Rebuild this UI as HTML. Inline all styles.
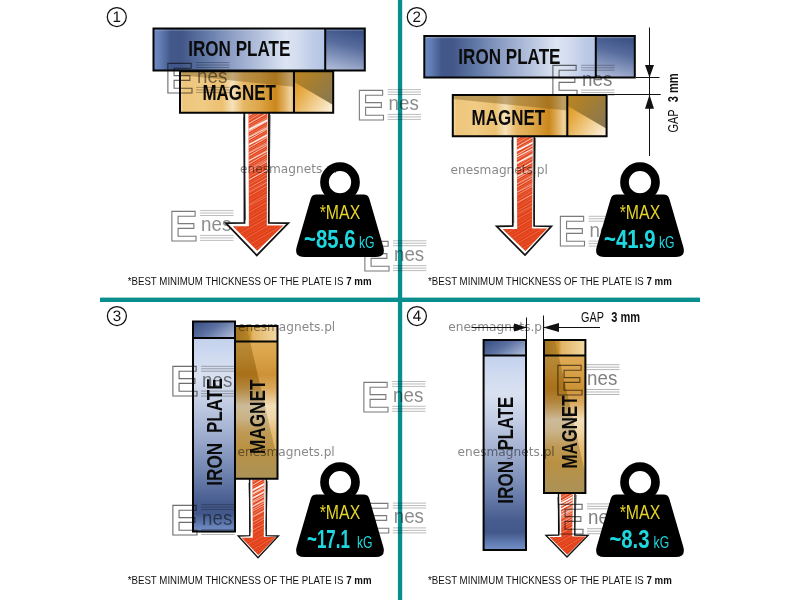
<!DOCTYPE html>
<html lang="en">
<head>
<meta charset="utf-8">
<title>Magnet holding force – iron plate and air gap</title>
<style>
html,body{margin:0;padding:0;background:#fff;}
body{width:800px;height:600px;overflow:hidden;position:relative;font-family:'Liberation Sans',Arial,Helvetica,sans-serif;}
svg{position:absolute;left:0;top:0;display:block;}
text{font-family:'Liberation Sans',Arial,Helvetica,sans-serif;white-space:pre;}
.lbl{font-weight:bold;font-size:21.8px;fill:#0b0b0b;}
.note{font-size:11px;fill:#111;}
.noteb{font-size:11px;fill:#111;font-weight:bold;}
.wm{font-family:'DejaVu Sans',Verdana,'Liberation Sans',sans-serif;font-size:12.2px;fill:#666;fill-opacity:.78;mix-blend-mode:multiply;}
.mul{mix-blend-mode:multiply;}
.num{font-size:15.2px;fill:#111;text-anchor:middle;text-rendering:geometricPrecision;}
.max{font-size:19.3px;fill:#e3d327;}
.val{font-size:25.8px;font-weight:bold;fill:#1fd7de;}
.kg{font-size:16.5px;fill:#1fd7de;}
.gap{font-size:14.5px;fill:#111;}
.gapb{font-size:14.5px;fill:#111;font-weight:bold;}
.logoE{font-weight:bold;font-size:43px;fill:none;stroke:#6e6e6e;stroke-width:1.1;text-rendering:geometricPrecision;}
.logoN{font-size:21px;fill:#808080;}
</style>
</head>
<body>
<svg width="800" height="600" viewBox="0 0 800 600">
<defs>
<linearGradient id="ironH" x1="0" y1="0" x2="1" y2="0">
<stop offset="0" stop-color="#6f8dc3"/><stop offset=".04" stop-color="#617db3"/><stop offset=".10" stop-color="#43588a"/>
<stop offset=".16" stop-color="#425688"/><stop offset=".30" stop-color="#6078a6"/><stop offset=".46" stop-color="#8fa0c6"/>
<stop offset=".63" stop-color="#b8c5df"/><stop offset=".77" stop-color="#dde5f3"/><stop offset=".84" stop-color="#d3ddef"/>
<stop offset=".92" stop-color="#c0cde8"/><stop offset="1" stop-color="#b3c4e5"/>
</linearGradient>
<linearGradient id="ironV" x1="0" y1="1" x2="0" y2="0">
<stop offset="0" stop-color="#7592c8"/><stop offset=".035" stop-color="#617db3"/><stop offset=".09" stop-color="#43588a"/>
<stop offset=".15" stop-color="#475c8e"/><stop offset=".30" stop-color="#6d82ae"/><stop offset=".50" stop-color="#a0aecf"/>
<stop offset=".66" stop-color="#c1cce3"/><stop offset=".80" stop-color="#d9e1f0"/><stop offset=".90" stop-color="#d0dbf0"/>
<stop offset="1" stop-color="#c3d1ed"/>
</linearGradient>
<linearGradient id="ironSide" x1=".62" y1="0" x2=".38" y2="1">
<stop offset="0" stop-color="#3a5084"/><stop offset=".4" stop-color="#586d9e"/><stop offset="1" stop-color="#aab7d5"/>
</linearGradient>
<linearGradient id="ironCap" x1="0" y1=".2" x2="1" y2=".8">
<stop offset="0" stop-color="#3a5084"/><stop offset=".45" stop-color="#5d72a2"/><stop offset="1" stop-color="#a9b7d6"/>
</linearGradient>
<linearGradient id="magH" x1="0" y1="0" x2="1" y2="0">
<stop offset="0" stop-color="#f6dfae"/><stop offset=".03" stop-color="#edc67c"/><stop offset=".20" stop-color="#f0cb84"/>
<stop offset=".37" stop-color="#ebc070"/><stop offset=".46" stop-color="#f6e2ba"/><stop offset=".56" stop-color="#e6b763"/>
<stop offset=".70" stop-color="#dda548"/><stop offset=".84" stop-color="#cb871b"/><stop offset=".92" stop-color="#e2b366"/>
<stop offset=".97" stop-color="#f0d39c"/><stop offset="1" stop-color="#e2b870"/>
</linearGradient>
<linearGradient id="magV" x1="0" y1="0" x2="0" y2="1">
<stop offset="0" stop-color="#d69c3a"/><stop offset=".10" stop-color="#d09029"/><stop offset=".24" stop-color="#c07a10"/>
<stop offset=".34" stop-color="#cf9640"/><stop offset=".47" stop-color="#f0dcb8"/><stop offset=".56" stop-color="#ecd0a0"/><stop offset=".66" stop-color="#ddb060"/>
<stop offset=".78" stop-color="#d7a545"/><stop offset=".90" stop-color="#cca658"/><stop offset="1" stop-color="#c4a660"/>
</linearGradient>
<linearGradient id="magSide" x1="0" y1=".25" x2="1" y2="1">
<stop offset="0" stop-color="#df961c"/><stop offset=".3" stop-color="#e8b050"/><stop offset=".65" stop-color="#f3d49c"/><stop offset="1" stop-color="#fef4e4"/>
</linearGradient>
<linearGradient id="magSideDark" x1="0" y1="0" x2="1" y2=".75">
<stop offset="0" stop-color="#bd861f"/><stop offset=".45" stop-color="#a67e30"/><stop offset="1" stop-color="#8a7850"/>
</linearGradient>
<linearGradient id="magCap" x1="0" y1="0" x2="1" y2="0">
<stop offset="0" stop-color="#b07c1c"/><stop offset=".35" stop-color="#c8922e"/><stop offset=".42" stop-color="#e2b565"/><stop offset="1" stop-color="#f3d9a4"/>
</linearGradient>
<linearGradient id="fadeV" x1="0" y1="0" x2="0" y2="1">
<stop offset="0" stop-color="#fff"/><stop offset=".35" stop-color="#fff" stop-opacity=".8"/><stop offset=".6" stop-color="#fff" stop-opacity=".35"/><stop offset="1" stop-color="#fff" stop-opacity=".25"/>
</linearGradient>
<pattern id="hatch" width="20" height="7" patternUnits="userSpaceOnUse" patternTransform="rotate(-30)">
<rect y="0" width="20" height="1" fill="#fde0d4" fill-opacity=".9"/>
<rect y="2.3" width="20" height=".55" fill="#f9c4b0" fill-opacity=".75"/>
<rect y="3.9" width="20" height=".8" fill="#fbd3c4" fill-opacity=".8"/>
<rect y="5.7" width="20" height=".4" fill="#f7b9a4" fill-opacity=".6"/>
</pattern>
</defs>
<rect width="800" height="600" fill="#fff"/>
<rect x="100" y="297.6" width="600" height="4.4" fill="#088e8e"/>
<rect x="397.9" y="0" width="4.3" height="600" fill="#088e8e"/>
<!-- panel 1 -->
<circle cx="116.8" cy="17" r="9.5" fill="#fff" stroke="#111" stroke-width="1.25"/><text class="num" x="116.8" y="21.9">1</text>
<g class="mul" transform="translate(171.5 210.3)" opacity="0.9"><text class="logoE" transform="translate(-2.5 30.3)">E</text><path d="M28.6 .3H62M28.6 2.75H62M28.6 5.2H62M28.6 25.1H62M28.6 27.6H62M28.6 30.1H62" stroke="#9c9c9c" stroke-width=".75" fill="none"/><text class="logoN" transform="translate(29.6 20.7) scale(0.8919 1)">nes</text></g>
<g>
<path d="M244.3 113L244.5 222.8L225.9 223.2L256.8 255.4L288.3 223.2L268.8 222.8L269 113" fill="#fff" stroke="#111" stroke-width="1.8" stroke-linejoin="miter"/>
<path d="M243.5 117L245.5 219.8M270.3 115L268.4 216.8" fill="none" stroke="#222" stroke-width=".7" stroke-opacity=".8"/>
<path d="M248.5 113.5L248.9 226.2L232.8 226.2L257.2 250.7L283.4 225.6L266.8 225.6L267.4 113.5Z" fill="#e23b12"/>
<clipPath id="ac1"><path d="M248.5 113.5L248.9 226.2L232.8 226.2L257.2 250.7L283.4 225.6L266.8 225.6L267.4 113.5Z"/></clipPath>
<mask id="am1" maskUnits="userSpaceOnUse" x="224.3" y="113" width="65.6" height="143.3"><rect x="224.3" y="113" width="65.6" height="143.3" fill="url(#fadeV)"/></mask>
<path d="M248.5 113.5L248.9 226.2L232.8 226.2L257.2 250.7L283.4 225.6L266.8 225.6L267.4 113.5Z" fill="url(#hatch)" mask="url(#am1)"/>
<g clip-path="url(#ac1)" stroke="#fff" fill="none"><path d="M245.5 131.47L270.4 118.53" stroke-width="1.7" stroke-opacity="0.9"/><path d="M245.5 138.97L270.4 126.03" stroke-width="1.1" stroke-opacity="0.8"/><path d="M245.5 146.47L270.4 133.53" stroke-width="1.5" stroke-opacity="0.85"/><path d="M245.5 154.97L270.4 142.03" stroke-width="0.9" stroke-opacity="0.7"/><path d="M245.5 162.47L270.4 149.53" stroke-width="1.3" stroke-opacity="0.7"/><path d="M245.5 171.47L270.4 158.53" stroke-width="0.8" stroke-opacity="0.55"/><path d="M245.5 181.47L270.4 168.53" stroke-width="1" stroke-opacity="0.5"/><path d="M245.5 193.47L270.4 180.53" stroke-width="0.7" stroke-opacity="0.4"/><path d="M245.5 207.47L270.4 194.53" stroke-width="0.8" stroke-opacity="0.3"/></g>
</g>
<rect x="180" y="71.2" width="114" height="41.5" fill="url(#magH)"/>
<rect x="294" y="71.2" width="39.2" height="41.5" fill="url(#magSide)"/>
<path d="M180 71.2H294V86.86L180 75.12Z" fill="#7a5a20" fill-opacity=".42"/>
<path d="M294 71.2H333.2V105L294 81.95Z" fill="url(#magSideDark)"/>
<path d="M180 71.2H333.2V112.7H180ZM294 71.2V112.7" fill="none" stroke="#050505" stroke-width="2"/>
<rect x="153.5" y="28.5" width="171.7" height="42" fill="url(#ironH)"/>
<rect x="325.2" y="28.5" width="39.6" height="42" fill="url(#ironSide)"/>
<rect x="154.5" y="29.5" width="209.3" height="1.2" fill="#fff" fill-opacity=".25"/>
<path d="M153.5 28.5H364.8V70.5H153.5ZM325.2 28.5V70.5" fill="none" stroke="#050505" stroke-width="2"/>
<text class="lbl" transform="translate(188.2 56.4) scale(0.7838 1)">IRON PLATE</text>
<text class="lbl" transform="translate(202.5 99.9) scale(0.7781 1)">MAGNET</text>
<g class="mul" transform="translate(167.5 62.3)" opacity="1"><text class="logoE" transform="translate(-2.5 30.3)">E</text><path d="M28.6 .3H62M28.6 2.75H62M28.6 5.2H62M28.6 25.1H62M28.6 27.6H62M28.6 30.1H62" stroke="#9c9c9c" stroke-width=".75" fill="none"/><text class="logoN" transform="translate(29.6 20.7) scale(0.8919 1)">nes</text></g>
<g class="mul" transform="translate(359 89.3)" opacity="0.9"><text class="logoE" transform="translate(-2.5 30.3)">E</text><path d="M28.6 .3H62M28.6 2.75H62M28.6 5.2H62M28.6 25.1H62M28.6 27.6H62M28.6 30.1H62" stroke="#9c9c9c" stroke-width=".75" fill="none"/><text class="logoN" transform="translate(29.6 20.7) scale(0.8919 1)">nes</text></g>
<g class="mul" transform="translate(364.4 240.5)" opacity="0.9"><text class="logoE" transform="translate(-2.5 30.3)">E</text><path d="M28.6 .3H62M28.6 2.75H62M28.6 5.2H62M28.6 25.1H62M28.6 27.6H62M28.6 30.1H62" stroke="#9c9c9c" stroke-width=".75" fill="none"/><text class="logoN" transform="translate(29.6 20.7) scale(0.8919 1)">nes</text></g>
<text class="wm" transform="translate(240 173.4) scale(0.9970 1)">enesmagnets.pl</text>
<g transform="translate(340 182)"><path fill="#000" d="M-23.4 12.6H23.4Q28.2 12.6 29.4 17L43.2 64.6Q46.2 75 35.6 75H-35.6Q-46.2 75 -43.2 64.6L-29.4 17Q-28.2 12.6 -23.4 12.6Z"/><circle cy=".2" r="15.5" fill="none" stroke="#000" stroke-width="8.7"/><text class="max" transform="translate(-20.3 37.2) scale(0.8230 1)">*MAX</text></g>
<text class="val" transform="translate(304 248.2) scale(0.7889 1)">~85.6</text>
<text class="kg" transform="translate(359 248.2) scale(0.7399 1)">kG</text>
<text class="note" transform="translate(127.7 284.5) scale(0.8826 1)">*BEST MINIMUM THICKNESS OF THE PLATE IS <tspan class="noteb">7 mm</tspan></text>
<!-- panel 2 -->
<circle cx="416.8" cy="17" r="9.5" fill="#fff" stroke="#111" stroke-width="1.25"/><text class="num" x="416.8" y="21.9">2</text>
<g class="mul" transform="translate(560 216)" opacity="0.9"><text class="logoE" transform="translate(-2.5 30.3)">E</text><path d="M28.6 .3H62M28.6 2.75H62M28.6 5.2H62M28.6 25.1H62M28.6 27.6H62M28.6 30.1H62" stroke="#9c9c9c" stroke-width=".75" fill="none"/><text class="logoN" transform="translate(29.6 20.7) scale(0.8919 1)">nes</text></g>
<g>
<path d="M512.6 136L512.8 226L496.6 226.4L525 255.1L551.4 226.4L534.1 226L534.3 136" fill="#fff" stroke="#111" stroke-width="1.7" stroke-linejoin="miter"/>
<path d="M511.8 140L513.8 223M535.6 138L533.7 220" fill="none" stroke="#222" stroke-width=".7" stroke-opacity=".8"/>
<path d="M516.8 136.5L517.2 229.06L502.65 229.06L525.4 250.96L547.15 228.46L532.1 228.46L532.7 136.5Z" fill="#e23b12"/>
<clipPath id="ac2"><path d="M516.8 136.5L517.2 229.06L502.65 229.06L525.4 250.96L547.15 228.46L532.1 228.46L532.7 136.5Z"/></clipPath>
<mask id="am2" maskUnits="userSpaceOnUse" x="495" y="136" width="58" height="120"><rect x="495" y="136" width="58" height="120" fill="url(#fadeV)"/></mask>
<path d="M516.8 136.5L517.2 229.06L502.65 229.06L525.4 250.96L547.15 228.46L532.1 228.46L532.7 136.5Z" fill="url(#hatch)" mask="url(#am2)"/>
<g clip-path="url(#ac2)" stroke="#fff" fill="none"><path d="M513.8 152.36L535.7 140.97" stroke-width="1.7" stroke-opacity="0.9"/><path d="M513.8 158.61L535.7 147.22" stroke-width="1.1" stroke-opacity="0.8"/><path d="M513.8 164.86L535.7 153.47" stroke-width="1.5" stroke-opacity="0.85"/><path d="M513.8 171.94L535.7 160.56" stroke-width="0.9" stroke-opacity="0.7"/><path d="M513.8 178.19L535.7 166.81" stroke-width="1.3" stroke-opacity="0.7"/><path d="M513.8 185.69L535.7 174.31" stroke-width="0.8" stroke-opacity="0.55"/><path d="M513.8 194.03L535.7 182.64" stroke-width="1" stroke-opacity="0.5"/><path d="M513.8 204.03L535.7 192.64" stroke-width="0.7" stroke-opacity="0.4"/><path d="M513.8 215.69L535.7 204.31" stroke-width="0.8" stroke-opacity="0.3"/></g>
</g>
<rect x="424.3" y="36" width="171.5" height="41.5" fill="url(#ironH)"/>
<rect x="595.8" y="36" width="39" height="41.5" fill="url(#ironSide)"/>
<rect x="425.3" y="37" width="208.5" height="1.2" fill="#fff" fill-opacity=".25"/>
<path d="M424.3 36H634.8V77.5H424.3ZM595.8 36V77.5" fill="none" stroke="#050505" stroke-width="2"/>
<g class="mul" transform="translate(552.5 65)" opacity="1"><text class="logoE" transform="translate(-2.5 30.3)">E</text><path d="M28.6 .3H62M28.6 2.75H62M28.6 5.2H62M28.6 25.1H62M28.6 27.6H62M28.6 30.1H62" stroke="#9c9c9c" stroke-width=".75" fill="none"/><text class="logoN" transform="translate(29.6 20.7) scale(0.8919 1)">nes</text></g>
<rect x="452.8" y="95" width="114.5" height="41.3" fill="url(#magH)"/>
<rect x="567.3" y="95" width="39.3" height="41.3" fill="url(#magSide)"/>
<path d="M452.8 95H567.3V110.59L452.8 98.9Z" fill="#7a5a20" fill-opacity=".42"/>
<path d="M567.3 95H606.6V128.64L567.3 105.69Z" fill="url(#magSideDark)"/>
<path d="M452.8 95H606.6V136.3H452.8ZM567.3 95V136.3" fill="none" stroke="#050505" stroke-width="2"/>
<text class="lbl" transform="translate(458.3 64.1) scale(0.7838 1)">IRON PLATE</text>
<text class="lbl" transform="translate(471.6 124.6) scale(0.7781 1)">MAGNET</text>
<text class="wm" transform="translate(450.6 173.6) scale(0.9970 1)">enesmagnets.pl</text>
<path d="M649.5 27.5V156M636 77.5H659.5M607.5 94.5H660.7" stroke="#111" stroke-width="1" fill="none"/>
<path d="M649.5 77.4L645 65H654ZM649.5 94.8L645 108.7H654Z" fill="#111"/>
<text class="gap" transform="translate(678 132.5) rotate(-90) scale(0.7478 1)">GAP</text>
<text class="gapb" transform="translate(678 102.3) rotate(-90) scale(0.7630 1)">3 mm</text>
<g transform="translate(640 182)"><path fill="#000" d="M-23.4 12.6H23.4Q28.2 12.6 29.4 17L43.2 64.6Q46.2 75 35.6 75H-35.6Q-46.2 75 -43.2 64.6L-29.4 17Q-28.2 12.6 -23.4 12.6Z"/><circle cy=".2" r="15.5" fill="none" stroke="#000" stroke-width="8.7"/><text class="max" transform="translate(-20.3 37.2) scale(0.8230 1)">*MAX</text></g>
<text class="val" transform="translate(604 248.2) scale(0.7889 1)">~41.9</text>
<text class="kg" transform="translate(659 248.2) scale(0.7399 1)">kG</text>
<text class="note" transform="translate(428 284.5) scale(0.8826 1)">*BEST MINIMUM THICKNESS OF THE PLATE IS <tspan class="noteb">7 mm</tspan></text>
<!-- panel 3 -->
<circle cx="116.9" cy="316" r="9.5" fill="#fff" stroke="#111" stroke-width="1.25"/><text class="num" x="116.9" y="320.9">3</text>
<g>
<path d="M249.6 479L249.8 535.6L238.2 536L258 557.7L278.4 536L266.2 535.6L266.4 479" fill="#fff" stroke="#111" stroke-width="1.4" stroke-linejoin="miter"/>
<path d="M248.8 483L250.8 532.6M267.7 481L265.8 529.6" fill="none" stroke="#222" stroke-width=".7" stroke-opacity=".8"/>
<path d="M252.4 479.5L252.8 537.64L241.7 537.64L258.4 555.24L276.1 537.04L263.8 537.04L264.4 479.5Z" fill="#e23b12"/>
<clipPath id="ac3"><path d="M252.4 479.5L252.8 537.64L241.7 537.64L258.4 555.24L276.1 537.04L263.8 537.04L264.4 479.5Z"/></clipPath>
<mask id="am3" maskUnits="userSpaceOnUse" x="236.6" y="479" width="43.4" height="79.6"><rect x="236.6" y="479" width="43.4" height="79.6" fill="url(#fadeV)"/></mask>
<path d="M252.4 479.5L252.8 537.64L241.7 537.64L258.4 555.24L276.1 537.04L263.8 537.04L264.4 479.5Z" fill="url(#hatch)" mask="url(#am3)"/>
<g clip-path="url(#ac3)" stroke="#fff" fill="none"><path d="M249.4 491.87L267.4 482.51" stroke-width="1.7" stroke-opacity="0.9"/><path d="M249.4 495.8L267.4 486.44" stroke-width="1.1" stroke-opacity="0.8"/><path d="M249.4 499.73L267.4 490.37" stroke-width="1.5" stroke-opacity="0.85"/><path d="M249.4 504.19L267.4 494.83" stroke-width="0.9" stroke-opacity="0.7"/><path d="M249.4 508.12L267.4 498.76" stroke-width="1.3" stroke-opacity="0.7"/><path d="M249.4 512.84L267.4 503.48" stroke-width="0.8" stroke-opacity="0.55"/><path d="M249.4 518.08L267.4 508.72" stroke-width="1" stroke-opacity="0.5"/><path d="M249.4 524.37L267.4 515.01" stroke-width="0.7" stroke-opacity="0.4"/><path d="M249.4 531.7L267.4 522.34" stroke-width="0.8" stroke-opacity="0.3"/></g>
</g>
<rect x="235" y="341.6" width="42.5" height="137.1" fill="url(#magV)"/>
<rect x="235" y="326" width="42.5" height="15.6" fill="url(#magCap)"/>
<path d="M250.02 341.6L277.5 341.6L277.5 460.37Z" fill="#ffe9c0" fill-opacity=".22"/>
<path d="M235 341.6L250.02 341.6L277.5 460.37L277.5 478.7L235 478.7Z" fill="#5e5238" fill-opacity=".24"/>
<path d="M235 326L246.01 326L250.02 341.6L235 341.6Z" fill="#7a5a20" fill-opacity=".25"/>
<path d="M235 326H277.5V478.7H235ZM235 341.6H277.5" fill="none" stroke="#050505" stroke-width="2"/>
<rect x="193" y="338" width="42" height="193.6" fill="url(#ironV)"/>
<rect x="193" y="321.4" width="42" height="16.6" fill="url(#ironCap)"/>

<path d="M193 321.4H235V531.6H193ZM193 338H235" fill="none" stroke="#050505" stroke-width="2"/>
<text class="lbl" transform="translate(222.2 485.8) rotate(-90) scale(0.7890 1)">IRON</text>
<text class="lbl" transform="translate(222.2 433.1) rotate(-90) scale(0.7832 1)">PLATE</text>
<text class="lbl" transform="translate(264.8 454.1) rotate(-90) scale(0.7898 1)">MAGNET</text>
<g class="mul" transform="translate(172.5 366)" opacity="1"><text class="logoE" transform="translate(-2.5 30.3)">E</text><path d="M28.6 .3H62M28.6 2.75H62M28.6 5.2H62M28.6 25.1H62M28.6 27.6H62M28.6 30.1H62" stroke="#9c9c9c" stroke-width=".75" fill="none"/><text class="logoN" transform="translate(29.6 20.7) scale(0.8919 1)">nes</text></g>
<g class="mul" transform="translate(172.5 504.4)" opacity="1"><text class="logoE" transform="translate(-2.5 30.3)">E</text><path d="M28.6 .3H62M28.6 2.75H62M28.6 5.2H62M28.6 25.1H62M28.6 27.6H62M28.6 30.1H62" stroke="#9c9c9c" stroke-width=".75" fill="none"/><text class="logoN" transform="translate(29.6 20.7) scale(0.8919 1)">nes</text></g>
<g class="mul" transform="translate(363.5 381.2)" opacity="0.9"><text class="logoE" transform="translate(-2.5 30.3)">E</text><path d="M28.6 .3H62M28.6 2.75H62M28.6 5.2H62M28.6 25.1H62M28.6 27.6H62M28.6 30.1H62" stroke="#9c9c9c" stroke-width=".75" fill="none"/><text class="logoN" transform="translate(29.6 20.7) scale(0.8919 1)">nes</text></g>
<g class="mul" transform="translate(364.2 502.8)" opacity="0.9"><text class="logoE" transform="translate(-2.5 30.3)">E</text><path d="M28.6 .3H62M28.6 2.75H62M28.6 5.2H62M28.6 25.1H62M28.6 27.6H62M28.6 30.1H62" stroke="#9c9c9c" stroke-width=".75" fill="none"/><text class="logoN" transform="translate(29.6 20.7) scale(0.8919 1)">nes</text></g>
<text class="wm" transform="translate(238 331) scale(0.9970 1)">enesmagnets.pl</text>
<text class="wm" transform="translate(237.5 455.9) scale(0.9970 1)">enesmagnets.pl</text>
<g transform="translate(340 482)"><path fill="#000" d="M-23.4 12.6H23.4Q28.2 12.6 29.4 17L43.2 64.6Q46.2 75 35.6 75H-35.6Q-46.2 75 -43.2 64.6L-29.4 17Q-28.2 12.6 -23.4 12.6Z"/><circle cy=".2" r="15.5" fill="none" stroke="#000" stroke-width="8.7"/><text class="max" transform="translate(-20.3 37.2) scale(0.8230 1)">*MAX</text></g>
<text class="val" transform="translate(307 548.2) scale(0.6587 1)">~17.1</text>
<text class="kg" transform="translate(357 548.2) scale(0.7399 1)">kG</text>
<text class="note" transform="translate(127.7 583.9) scale(0.8826 1)">*BEST MINIMUM THICKNESS OF THE PLATE IS <tspan class="noteb">7 mm</tspan></text>
<!-- panel 4 -->
<circle cx="416.9" cy="316" r="9.5" fill="#fff" stroke="#111" stroke-width="1.25"/><text class="num" x="416.9" y="320.9">4</text>
<g>
<path d="M558.5 493L558.7 535L546 535.4L567 557.1L588 535.4L574.8 535L575 493" fill="#fff" stroke="#111" stroke-width="1.4" stroke-linejoin="miter"/>
<path d="M557.7 497L559.7 532M576.3 495L574.4 529" fill="none" stroke="#222" stroke-width=".7" stroke-opacity=".8"/>
<path d="M560.9 493.5L561.3 537.04L549.5 537.04L567.4 554.64L585.7 536.44L572.2 536.44L572.8 493.5Z" fill="#e23b12"/>
<clipPath id="ac4"><path d="M560.9 493.5L561.3 537.04L549.5 537.04L567.4 554.64L585.7 536.44L572.2 536.44L572.8 493.5Z"/></clipPath>
<mask id="am4" maskUnits="userSpaceOnUse" x="544.4" y="493" width="45.2" height="65"><rect x="544.4" y="493" width="45.2" height="65" fill="url(#fadeV)"/></mask>
<path d="M560.9 493.5L561.3 537.04L549.5 537.04L567.4 554.64L585.7 536.44L572.2 536.44L572.8 493.5Z" fill="url(#hatch)" mask="url(#am4)"/>
<g clip-path="url(#ac4)" stroke="#fff" fill="none"><path d="M557.9 504.77L575.8 495.46" stroke-width="1.7" stroke-opacity="0.9"/><path d="M557.9 507.68L575.8 498.37" stroke-width="1.1" stroke-opacity="0.8"/><path d="M557.9 510.6L575.8 501.29" stroke-width="1.5" stroke-opacity="0.85"/><path d="M557.9 513.9L575.8 504.6" stroke-width="0.9" stroke-opacity="0.7"/><path d="M557.9 516.82L575.8 507.51" stroke-width="1.3" stroke-opacity="0.7"/><path d="M557.9 520.32L575.8 511.01" stroke-width="0.8" stroke-opacity="0.55"/><path d="M557.9 524.21L575.8 514.9" stroke-width="1" stroke-opacity="0.5"/><path d="M557.9 528.88L575.8 519.57" stroke-width="0.7" stroke-opacity="0.4"/><path d="M557.9 534.32L575.8 525.01" stroke-width="0.8" stroke-opacity="0.3"/></g>
</g>
<rect x="483.6" y="355.4" width="42.4" height="194.6" fill="url(#ironV)"/>
<rect x="483.6" y="340" width="42.4" height="15.4" fill="url(#ironCap)"/>

<path d="M483.6 340H526V550H483.6ZM483.6 355.4H526" fill="none" stroke="#050505" stroke-width="2"/>
<rect x="544" y="355.4" width="41.4" height="137.6" fill="url(#magV)"/>
<rect x="544" y="340" width="41.4" height="15.4" fill="url(#magCap)"/>
<path d="M558.62 355.4L585.4 355.4L585.4 474.6Z" fill="#ffe9c0" fill-opacity=".22"/>
<path d="M544 355.4L558.62 355.4L585.4 474.6L585.4 493L544 493Z" fill="#5e5238" fill-opacity=".24"/>
<path d="M544 340L554.72 340L558.62 355.4L544 355.4Z" fill="#7a5a20" fill-opacity=".25"/>
<path d="M544 340H585.4V493H544ZM544 355.4H585.4" fill="none" stroke="#050505" stroke-width="2"/>
<text class="lbl" transform="translate(512.9 503.7) rotate(-90) scale(0.7872 1)">IRON</text>
<text class="lbl" transform="translate(512.9 450.3) rotate(-90) scale(0.7660 1)">PLATE</text>
<text class="lbl" transform="translate(576.5 468.4) rotate(-90) scale(0.7718 1)">MAGNET</text>
<g class="mul" transform="translate(557.5 364.4)" opacity="1"><text class="logoE" transform="translate(-2.5 30.3)">E</text><path d="M28.6 .3H62M28.6 2.75H62M28.6 5.2H62M28.6 25.1H62M28.6 27.6H62M28.6 30.1H62" stroke="#9c9c9c" stroke-width=".75" fill="none"/><text class="logoN" transform="translate(29.6 20.7) scale(0.8919 1)">nes</text></g>
<g class="mul" transform="translate(558.4 503.6)" opacity="1"><text class="logoE" transform="translate(-2.5 30.3)">E</text><path d="M28.6 .3H62M28.6 2.75H62M28.6 5.2H62M28.6 25.1H62M28.6 27.6H62M28.6 30.1H62" stroke="#9c9c9c" stroke-width=".75" fill="none"/><text class="logoN" transform="translate(29.6 20.7) scale(0.8919 1)">nes</text></g>
<text class="wm" transform="translate(448.2 330.5) scale(0.9970 1)">enesmagnets.pl</text>
<text class="wm" transform="translate(457.5 455.9) scale(0.9970 1)">enesmagnets.pl</text>
<path d="M526.5 317.5V339M543.5 315.5V339M471.5 327.5H526M543.5 327.5H600" stroke="#111" stroke-width="1" fill="none"/>
<path d="M526.8 327.5L514 323.5V331.5ZM543.2 327.5L559 323.1V331.9Z" fill="#111"/>
<text class="gap" transform="translate(581.1 321.9) scale(0.7478 1)">GAP</text>
<text class="gapb" transform="translate(611.3 321.9) scale(0.7630 1)">3 mm</text>
<g transform="translate(640 482)"><path fill="#000" d="M-23.4 12.6H23.4Q28.2 12.6 29.4 17L43.2 64.6Q46.2 75 35.6 75H-35.6Q-46.2 75 -43.2 64.6L-29.4 17Q-28.2 12.6 -23.4 12.6Z"/><circle cy=".2" r="15.5" fill="none" stroke="#000" stroke-width="8.7"/><text class="max" transform="translate(-20.3 37.2) scale(0.8230 1)">*MAX</text></g>
<text class="val" transform="translate(609.4 548.2) scale(0.7893 1)">~8.3</text>
<text class="kg" transform="translate(653.6 548.2) scale(0.7399 1)">kG</text>
<text class="note" transform="translate(428 583.9) scale(0.8826 1)">*BEST MINIMUM THICKNESS OF THE PLATE IS <tspan class="noteb">7 mm</tspan></text>
</svg>
</body>
</html>
